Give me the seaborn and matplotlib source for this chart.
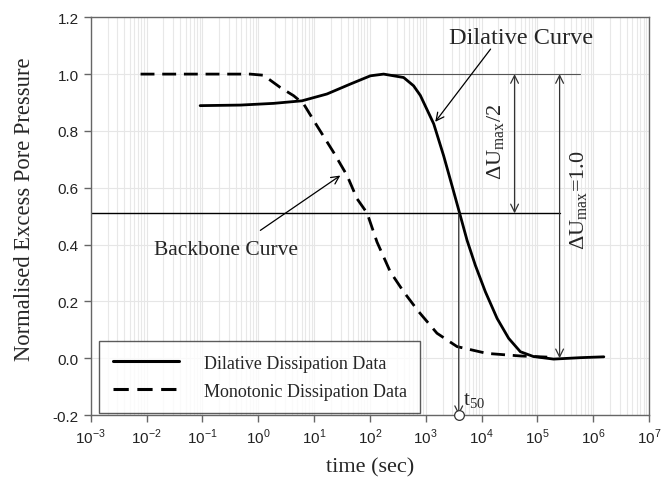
import numpy as np
import pandas as pd
import matplotlib
matplotlib.use("Agg")
import matplotlib.pyplot as plt
import seaborn as sns
from matplotlib.ticker import LogLocator, NullFormatter, FixedLocator
from matplotlib.lines import Line2D

# Data
dil_t = [0.091, 0.48, 1.88, 6.07, 17, 44.6, 102, 176, 402, 605, 800, 1390, 2090, 2950, 4040,
         5500, 7740, 11700, 19000, 30600, 49500, 85000, 195000, 590000, 1550000]
dil_u = [0.889, 0.891, 0.897, 0.906, 0.930, 0.965, 0.994, 1.000, 0.988, 0.959, 0.925, 0.825,
         0.713, 0.608, 0.511, 0.415, 0.327, 0.234, 0.140, 0.070, 0.023, 0.006, -0.003, 0.002,
         0.005]
mono_t = [0.0078, 0.05, 0.3, 0.72, 1.24, 2.48, 4.3, 6.5, 11.2, 22.3, 39, 59, 89, 134, 232, 402,
          747, 1590, 3640, 12500, 49500, 150000]
mono_u = [1.0, 1.0, 1.0, 1.0, 0.996, 0.953, 0.924, 0.895, 0.819, 0.725, 0.643, 0.561, 0.511,
          0.409, 0.304, 0.234, 0.164, 0.088, 0.041, 0.017, 0.008, 0.004]
series_names = ["Dilative Dissipation Data", "Monotonic Dissipation Data"]
t50 = 3900
u_half = 0.51
x_ticks = [1e-3, 1e-2, 1e-1, 1e0, 1e1, 1e2, 1e3, 1e4, 1e5, 1e6, 1e7]
x_tick_labels = ["10$^{\\mathregular{-3}}$", "10$^{\\mathregular{-2}}$",
                 "10$^{\\mathregular{-1}}$", "10$^{\\mathregular{0}}$",
                 "10$^{\\mathregular{1}}$", "10$^{\\mathregular{2}}$",
                 "10$^{\\mathregular{3}}$", "10$^{\\mathregular{4}}$",
                 "10$^{\\mathregular{5}}$", "10$^{\\mathregular{6}}$",
                 "10$^{\\mathregular{7}}$"]
y_ticks = [-0.2, 0.0, 0.2, 0.4, 0.6, 0.8, 1.0, 1.2]

df = pd.concat([
    pd.DataFrame({"t": dil_t, "u": dil_u, "series": series_names[0]}),
    pd.DataFrame({"t": mono_t, "u": mono_u, "series": series_names[1]}),
])

sns.set_style("white")
plt.rcParams["font.family"] = ["Liberation Sans", "DejaVu Sans"]
serif = ["Liberation Serif", "DejaVu Serif"]

fig = plt.figure(figsize=(6.65, 4.81), dpi=100)
ax = fig.add_axes([0.1365, 0.135, 0.8395, 0.827])

ax.set_xscale("log")
ax.set_xlim(1e-3, 1e7)
ax.set_ylim(-0.2, 1.2)

ax.xaxis.set_major_locator(FixedLocator(x_ticks))
ax.xaxis.set_minor_locator(LogLocator(base=10, subs=np.arange(2, 10), numticks=100))
ax.xaxis.set_minor_formatter(NullFormatter())
ax.set_xticks(x_ticks)
ax.set_xticklabels(x_tick_labels)
ax.set_yticks(y_ticks)
ax.set_yticklabels([f"{v:.1f}" for v in y_ticks])
ax.grid(True, which="major", axis="both", color="#e6e6e6", lw=0.8, zorder=0)
ax.grid(True, which="minor", axis="x", color="#e8e8e8", lw=0.8, zorder=0)
ax.set_axisbelow(True)

sns.lineplot(data=df, x="t", y="u", style="series", sort=False, estimator=None,
             color="black", lw=2.0, ax=ax,
             dashes={series_names[0]: "", series_names[1]: (5, 2.8)}, legend=False, zorder=3)
for ln in ax.lines:
    ln.set_solid_joinstyle("round")
    ln.set_dash_joinstyle("round")

# reference lines
ax.plot([1e-3, 2.5e5], [u_half, u_half], color="black", lw=1.0, zorder=2)
ax.plot([176, 5.9e5], [1.0, 1.0], color="#555555", lw=0.8, zorder=2)

# t50 arrow + marker
ax.annotate("", xy=(t50, -0.2), xytext=(t50, u_half),
            arrowprops=dict(arrowstyle="->", lw=0.9, color="#333333", mutation_scale=14,
                            shrinkA=0, shrinkB=0),
            zorder=4)
ax.plot([t50], [-0.2], marker="o", ms=7, mfc="white", mec="#333333", mew=0.9, zorder=5,
        clip_on=False)
ax.text(4700, -0.163, "t$_{\\mathregular{50}}$", fontsize=15, family=serif,
        va="baseline", ha="left")

# delta arrows
ax.annotate("", xy=(3.9e4, 1.0), xytext=(3.9e4, u_half),
            arrowprops=dict(arrowstyle="<->", lw=0.9, color="#333333", mutation_scale=14,
                            shrinkA=0, shrinkB=0))
ax.annotate("", xy=(2.5e5, 1.0), xytext=(2.5e5, 0.0),
            arrowprops=dict(arrowstyle="<->", lw=0.9, color="#333333", mutation_scale=14,
                            shrinkA=0, shrinkB=0))
ax.text(1.85e4, 0.766, "\u0394U$_{\\mathregular{max}}$/2", rotation=90, fontsize=16,
        family=serif, ha="center", va="center")
ax.text(5.6e5, 0.56, "\u0394U$_{\\mathregular{max}}$=1.0", rotation=90, fontsize=16,
        family=serif, ha="center", va="center")

# curve labels
ax.text(5.1e4, 1.13, "Dilative Curve", fontsize=17.5, family=serif, ha="center", va="center")
ax.annotate("", xy=(1480, 0.832), xytext=(14500, 1.088),
            arrowprops=dict(arrowstyle="->", lw=0.9, color="black", mutation_scale=14,
                            shrinkA=0, shrinkB=0))
ax.text(0.26, 0.384, "Backbone Curve", fontsize=15.5, family=serif, ha="center", va="center")
ax.annotate("", xy=(29.5, 0.643), xytext=(1.09, 0.45),
            arrowprops=dict(arrowstyle="->", lw=0.9, color="black", mutation_scale=14,
                            shrinkA=0, shrinkB=0))

# legend
handles = [Line2D([], [], color="black", lw=2.2, ls="-"),
           Line2D([], [], color="black", lw=2.2, ls=(0, (5, 2.8)))]
leg = ax.legend(handles, series_names, loc="lower left", bbox_to_anchor=(0.015, 0.005),
                prop={"family": serif, "size": 13}, frameon=True, fancybox=False,
                edgecolor="#333333", handlelength=3.7, handletextpad=1.35,
                borderpad=0.75, labelspacing=0.6, borderaxespad=0)
leg.get_frame().set_linewidth(1.0)

# spines / ticks
for s in ax.spines.values():
    s.set_color("#666666")
    s.set_linewidth(1.0)
ax.tick_params(axis="both", which="major", direction="out", length=5, width=1.0,
               color="#666666", labelsize=11, labelcolor="#222222", bottom=True, left=True)
ax.tick_params(axis="x", which="minor", bottom=False)

ax.set_xlabel("time (sec)", fontsize=16, family=serif)
ax.xaxis.set_label_coords(0.5, -0.105)
ax.set_ylabel("Normalised Excess Pore Pressure", fontsize=16.3, family=serif)
ax.yaxis.set_label_coords(-0.10, 0.52)

fig.savefig("out.png", dpi=100)
